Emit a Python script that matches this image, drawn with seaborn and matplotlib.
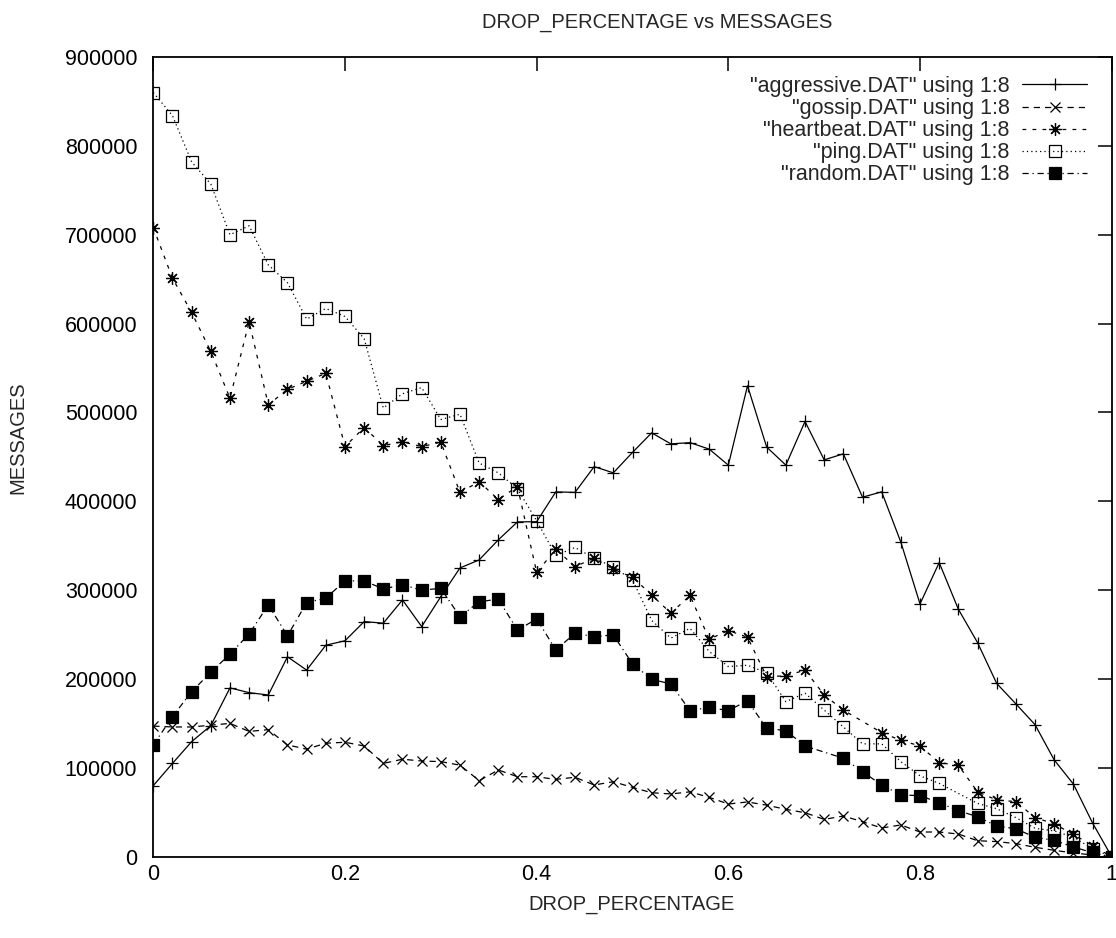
import matplotlib
matplotlib.use("Agg")
import matplotlib.pyplot as plt
import pandas as pd
import seaborn as sns

# drop percentage sampled every 0.02
drop_pct = [round(i * 0.02, 2) for i in range(51)]

aggressive = [80000, 105000, 129500, 147500, 190000, 184600, 182000, 225000, 210000, 238000,
              243000, 264600, 262800, 289000, 259000, 292700, 325000, 334000, 356600, 376800,
              377000, 410600, 410000, 439000, 432000, 455000, 477000, 464600, 466000, 458700,
              440700, 530000, 461000, 440700, 489800, 446600, 453400, 404600, 410600, 354000,
              284500, 331000, 278500, 241000, 195000, 172000, 148600, 108900, 81800, 38000, 0]

gossip = [147000, 146000, 146000, 148000, 150000, 141000, 143000, 125800, 121000, 127700,
          128800, 124600, 105000, 109700, 107700, 107000, 103000, 85600, 97600, 90000,
          90000, 87000, 89400, 80700, 84400, 78000, 72000, 70600, 73000, 66800,
          59300, 61600, 58000, 53300, 49500, 42000, 45800, 39400, 32300, 35700,
          27800, 27800, 25500, 18000, 17000, 14700, 10600, 7200, 4200, 2000, 0]

heartbeat = [708000, 651000, 612500, 568600, 516000, 602000, 508600, 526000, 535000, 544000,
             461600, 483000, 462700, 467000, 461600, 466500, 410000, 422000, 402000, 416600,
             320000, 346000, 326500, 336000, 323500, 314500, 294600, 274000, 294000, 244800,
             254500, 247000, 202700, 203500, 210000, 182000, 165000, None, 139600, 131000,
             124600, 105800, 103000, 73000, 63800, 62000, 44000, 37000, 25000, 12500, 0]

ping = [860000, 834000, 782000, 757000, 700000, 710000, 666000, 646000, 605000, 617000,
        608000, 583000, 505000, 521000, 528000, 492000, 498000, 443000, 432000, 414000,
        378000, 339000, 348000, 336000, 326000, 311500, 266000, 246000, 257000, 231000,
        214000, 215500, 207000, 174500, 184000, 165000, 146000, 127000, 127000, 107000,
        91000, 82500, None, 60000, 54000, 44000, 32000, 29000, 22000, 9000, 0]

random_ = [125800, 157600, 185800, 207600, 228000, 250700, 283400, 248600, 286000, 291000,
           310400, 310400, 301400, 306000, 300000, 302000, 270000, 287000, 289800, 255000,
           267600, 232700, 251500, 247700, 249600, 217000, 199700, 194400, 164400, 168000,
           164400, 175600, 144500, 141900, 124600, None, 110800, 95700, 80700, 69500,
           68700, 60800, 51800, 45000, 34600, 31500, 21800, 18400, 11000, 4500, 0]

series_names = ['"aggressive.DAT" using 1:8', '"gossip.DAT" using 1:8',
                '"heartbeat.DAT" using 1:8', '"ping.DAT" using 1:8',
                '"random.DAT" using 1:8']
series_values = [aggressive, gossip, heartbeat, ping, random_]

x_ticks = [0, 0.2, 0.4, 0.6, 0.8, 1.0]
x_tick_labels = ["0", "0.2", "0.4", "0.6", "0.8", "1"]
y_ticks = list(range(0, 900001, 100000))

sns.set_theme(style="white")
plt.rcParams['font.family'] = ['Liberation Sans', 'DejaVu Sans']
FS = 15.5
FS_TITLE = 14.5

W, H = 1116, 938
fig = plt.figure(figsize=(W / 100, H / 100), dpi=100)
left, right, top, bottom = 153.3, 1111.7, 57.0, 856.7
ax = fig.add_axes([left / W, (H - bottom) / H, (right - left) / W, (bottom - top) / H])

styles = [
    dict(marker='+', markersize=9, linestyle='-'),
    dict(marker='x', markersize=7, linestyle=(0, (5, 4))),
    dict(marker=(8, 2, 0), markersize=9, linestyle=(0, (3, 5))),
    dict(marker='s', markersize=8, linestyle=(0, (1, 2.5)), markerfacecolor='none'),
    dict(marker='s', markersize=8.5, linestyle=(0, (5, 3, 1, 3)), markerfacecolor='black'),
]

handles = []
for name, vals, st in zip(series_names, series_values, styles):
    df = pd.DataFrame({"drop": drop_pct, "messages": vals}).dropna()
    sns.lineplot(data=df, x="drop", y="messages", ax=ax, color="black",
                 linewidth=0.9, markeredgecolor="black", markeredgewidth=0.9,
                 label=name, **st)
    handles.append(ax.get_lines()[-1])

ax.set_xlim(0, 1)
ax.set_ylim(0, 900000)
ax.set_xticks(x_ticks)
ax.set_xticklabels(x_tick_labels)
ax.set_yticks(y_ticks)
ax.set_yticklabels([str(v) for v in y_ticks])
ax.tick_params(direction="in", length=10, width=1.1, top=True, right=True,
               labelsize=FS, colors="black")
ax.tick_params(axis="y", pad=11.5)
ax.tick_params(axis="x", pad=5)
for sp in ax.spines.values():
    sp.set_color("black")
    sp.set_linewidth(1.3)
ax.set_xlabel("")
ax.set_ylabel("")

fig.text(632 / W, 1 - 905 / H, "DROP_PERCENTAGE", ha="center", va="center", fontsize=FS_TITLE)
fig.text(18 / W, 1 - 438 / H, "MESSAGES", ha="center", va="center", rotation=90, fontsize=FS_TITLE)
fig.text(657 / W, 1 - 22 / H, "DROP_PERCENTAGE vs MESSAGES", ha="center", va="center",
         fontsize=FS_TITLE)

leg = ax.legend(handles=handles, labels=series_names, loc="upper right",
                bbox_to_anchor=(1087 / W, 1 - 76 / H), bbox_transform=fig.transFigure,
                frameon=False, markerfirst=False, numpoints=1, fontsize=FS,
                handlelength=3.0, handletextpad=0.6, labelspacing=0.05,
                borderpad=0, borderaxespad=0)

fig.savefig("out.png", dpi=100, facecolor="white")
